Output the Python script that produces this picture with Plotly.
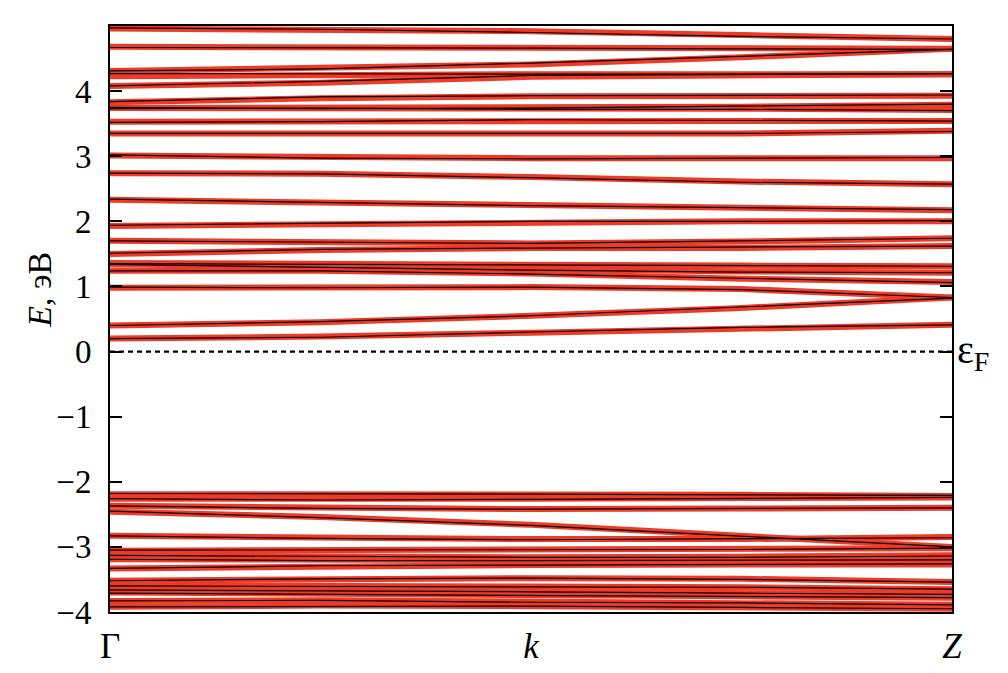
import plotly.graph_objects as go

# k-path sample points (Γ -> Z, fractional)
K = [0.0, 0.25, 0.5, 0.75, 1.0]

# Band energies (eV) read at the K points — red calculation
RED_UPPER = [
    [4.96, 4.95, 4.92, 4.86, 4.80],
    [4.68, 4.67, 4.66, 4.66, 4.65],
    [4.31, 4.35, 4.41, 4.52, 4.65],
    [4.23, 4.25, 4.26, 4.26, 4.26],
    [4.08, 4.13, 4.22, 4.25, 4.26],
    [3.83, 3.89, 3.92, 3.93, 3.93],
    [3.74, 3.74, 3.74, 3.76, 3.79],
    [3.74, 3.74, 3.74, 3.73, 3.71],
    [3.53, 3.54, 3.55, 3.54, 3.54],
    [3.35, 3.35, 3.35, 3.35, 3.39],
    [3.01, 2.98, 2.97, 2.97, 2.97],
    [2.74, 2.73, 2.68, 2.61, 2.57],
    [2.33, 2.29, 2.25, 2.21, 2.17],
    [1.93, 1.96, 1.99, 2.00, 2.00],
    [1.70, 1.67, 1.66, 1.69, 1.74],
    [1.50, 1.56, 1.59, 1.59, 1.62],
    [1.36, 1.34, 1.33, 1.32, 1.31],
    [1.34, 1.30, 1.26, 1.23, 1.21],
    [1.24, 1.24, 1.20, 1.12, 1.07],
    [0.98, 0.98, 0.99, 0.96, 0.83],
    [0.40, 0.45, 0.55, 0.67, 0.83],
    [0.20, 0.23, 0.29, 0.36, 0.41],
]
RED_LOWER = [
    [-2.19, -2.19, -2.19, -2.20, -2.22],
    [-2.26, -2.27, -2.26, -2.25, -2.24],
    [-2.37, -2.40, -2.42, -2.41, -2.40],
    [-2.46, -2.54, -2.66, -2.82, -3.00],
    [-2.83, -2.86, -2.88, -2.88, -2.85],
    [-3.06, -3.05, -3.05, -3.04, -3.02],
    [-3.13, -3.15, -3.16, -3.15, -3.13],
    [-3.19, -3.20, -3.21, -3.21, -3.20],
    [-3.33, -3.30, -3.28, -3.27, -3.27],
    [-3.52, -3.49, -3.48, -3.49, -3.54],
    [-3.59, -3.61, -3.61, -3.62, -3.65],
    [-3.65, -3.67, -3.69, -3.70, -3.73],
    [-3.70, -3.73, -3.74, -3.76, -3.78],
    [-3.83, -3.82, -3.84, -3.86, -3.89],
    [-3.92, -3.90, -3.91, -3.93, -3.95],
]

# Black calculation (nearly coincident, small deviations)
BLACK_UPPER = [
    [4.97, 4.95, 4.90, 4.84, 4.80],
    [4.67, 4.67, 4.66, 4.65, 4.64],
    [4.31, 4.34, 4.43, 4.54, 4.64],
    [4.27, 4.26, 4.26, 4.26, 4.27],
    [4.08, 4.15, 4.24, 4.26, 4.27],
    [3.84, 3.91, 3.93, 3.93, 3.94],
    [3.75, 3.73, 3.74, 3.77, 3.80],
    [3.73, 3.74, 3.72, 3.72, 3.70],
    [3.52, 3.53, 3.56, 3.55, 3.54],
    [3.35, 3.35, 3.34, 3.35, 3.38],
    [3.02, 2.97, 2.96, 2.97, 2.98],
    [2.74, 2.73, 2.67, 2.60, 2.57],
    [2.34, 2.29, 2.24, 2.21, 2.18],
    [1.94, 1.97, 2.00, 2.00, 2.01],
    [1.70, 1.68, 1.66, 1.70, 1.74],
    [1.51, 1.57, 1.59, 1.60, 1.62],
    [1.35, 1.34, 1.33, 1.32, 1.31],
    [1.34, 1.29, 1.25, 1.22, 1.21],
    [1.24, 1.24, 1.19, 1.12, 1.06],
    [0.99, 0.98, 0.99, 0.95, 0.83],
    [0.40, 0.46, 0.55, 0.68, 0.82],
    [0.20, 0.22, 0.30, 0.37, 0.41],
]
BLACK_LOWER = [
    [-2.18, -2.18, -2.19, -2.20, -2.21],
    [-2.26, -2.28, -2.27, -2.25, -2.24],
    [-2.37, -2.41, -2.42, -2.41, -2.40],
    [-2.45, -2.55, -2.67, -2.83, -3.00],
    [-2.83, -2.87, -2.89, -2.88, -2.86],
    [-3.05, -3.05, -3.05, -3.04, -3.02],
    [-3.13, -3.15, -3.16, -3.16, -3.14],
    [-3.19, -3.21, -3.21, -3.21, -3.20],
    [-3.33, -3.29, -3.28, -3.27, -3.26],
    [-3.52, -3.49, -3.48, -3.50, -3.54],
    [-3.60, -3.61, -3.62, -3.62, -3.65],
    [-3.66, -3.67, -3.69, -3.71, -3.73],
    [-3.71, -3.73, -3.75, -3.76, -3.78],
    [-3.83, -3.82, -3.85, -3.86, -3.89],
    [-3.92, -3.91, -3.91, -3.93, -3.95],
]

Y_TICKS = [-4, -3, -2, -1, 0, 1, 2, 3, 4]
Y_TICK_TEXT = ["\u22124", "\u22123", "\u22122", "\u22121", "0", "1", "2", "3", "4"]
X_TICKS = [0.0, 0.5, 1.0]
X_TICK_TEXT = ["\u0393", "<i>k</i>", "<i>Z</i>"]
FERMI = 0.0

RED = "#ee3a26"
SERIF = "Liberation Serif, Times New Roman, serif"

fig = go.Figure()

for band in RED_UPPER + RED_LOWER:
    fig.add_trace(go.Scatter(x=K, y=band, mode="lines",
                             line=dict(color=RED, width=6), hoverinfo="skip"))
for band in BLACK_UPPER + BLACK_LOWER:
    fig.add_trace(go.Scatter(x=K, y=band, mode="lines",
                             line=dict(color="black", width=1.2), hoverinfo="skip"))

# Fermi level
fig.add_trace(go.Scatter(x=[K[0], K[-1]], y=[FERMI, FERMI], mode="lines",
                         line=dict(color="black", width=2.2, dash="5px,4px"),
                         hoverinfo="skip"))

# page body has an 8px default margin, so the figure is 8px smaller each way
fig.update_layout(
    width=1000, height=665,
    margin=dict(l=102, r=56, t=18, b=61),
    paper_bgcolor="white", plot_bgcolor="white",
    showlegend=False,
    font=dict(family=SERIF, size=30, color="black"),
    xaxis=dict(range=[0, 1], tickvals=X_TICKS, ticktext=X_TICK_TEXT,
               ticks="", showgrid=False, zeroline=False, automargin=False,
               showline=True, linecolor="black", linewidth=2, mirror=True,
               tickfont=dict(family=SERIF, size=35), ticklabelstandoff=2),
    yaxis=dict(range=[-4, 5], tickvals=Y_TICKS, ticktext=Y_TICK_TEXT,
               ticks="inside", ticklen=12, tickwidth=2, tickcolor="black",
               showgrid=False, zeroline=False, automargin=False,
               showline=True, linecolor="black", linewidth=2, mirror="ticks",
               tickfont=dict(family=SERIF, size=33), ticklabelstandoff=10),
    annotations=[
        dict(text="<i>E</i>, эВ", xref="paper", yref="y", x=-0.083, y=0.95,
             textangle=-90, showarrow=False, font=dict(family=SERIF, size=34),
             xanchor="center", yanchor="middle"),
        dict(text="ε<sub>F</sub>", xref="paper", yref="y", x=1.0, y=FERMI,
             xshift=3, showarrow=False, font=dict(family=SERIF, size=40),
             xanchor="left", yanchor="middle"),
    ],
)

fig.write_html("out.html")
